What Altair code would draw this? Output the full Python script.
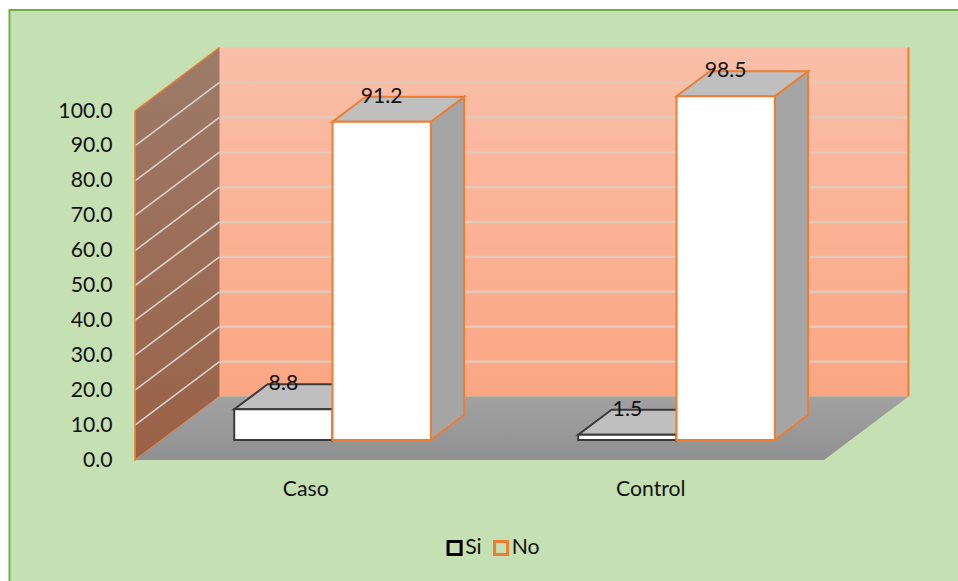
import altair as alt
import pandas as pd

# Values of the chart
categories = ["Caso", "Control"]
series_names = ["Si", "No"]
si_values = [8.8, 1.5]
no_values = [91.2, 98.5]
axis_ticks = [0, 10, 20, 30, 40, 50, 60, 70, 80, 90, 100]

# Oblique projection: depth 0 is the front edge of the floor, depth 1 the back wall
PX_PER_CATEGORY = 345.0
PX_PER_VALUE = 3.49
DEPTH_X = 84.5 / PX_PER_CATEGORY
DEPTH_Y = 63.5 / PX_PER_VALUE
FLOOR_LEFT_PX = 135.0
FLOOR_FRONT_PX = 460.0
FLOOR_SPAN = 1.997
W, H = 958, 581

BAR_FRONT, BAR_BACK = 0.315, 0.709
BAR_WIDTH = 98.3 / PX_PER_CATEGORY
GROUP_CENTERS = [0.4954, 1.4925]

ORANGE = "#ed7d31"
DARK = "#3a3a3a"
TOP_GRAY = "#bfbfbf"
SIDE_GRAY = "#a5a5a5"
INK = "#111111"
FONT = "Lato"
TEXT_SIZE = 21.2

x_scale = alt.Scale(domain=[-FLOOR_LEFT_PX / PX_PER_CATEGORY, (W - FLOOR_LEFT_PX) / PX_PER_CATEGORY],
                    nice=False, zero=False)
y_scale = alt.Scale(domain=[(FLOOR_FRONT_PX - H) / PX_PER_VALUE, FLOOR_FRONT_PX / PX_PER_VALUE],
                    nice=False, zero=False)

# Value axis, pulled inward so its labels sit just left of the left wall
value_axis = alt.Axis(
    values=axis_ticks, format=".1f", domain=False, ticks=False, grid=False,
    offset=-112, labelPadding=0, labelFont=FONT, labelFontSize=TEXT_SIZE,
    labelColor=INK, zindex=1, title=None,
)


def px(x, d):
    return x + DEPTH_X * d


def py(v, d):
    return v + DEPTH_Y * d


X = alt.X("x:Q", scale=x_scale, axis=None)
Y = alt.Y("y:Q", scale=y_scale, axis=value_axis, stack=None)
X2 = alt.X2("x2:Q")
Y2 = alt.Y2("y2:Q")


def vgrad(top, bottom):
    return alt.Gradient(gradient="linear", x1=0, x2=0, y1=0, y2=1,
                        stops=[alt.GradientStop(offset=0, color=top),
                               alt.GradientStop(offset=1, color=bottom)])


def bar_layers(x0, x1, value, stroke, width):
    """Front, top and right side of one box standing on the floor."""
    style = dict(stroke=stroke, strokeWidth=width, strokeJoin="miter")
    front = pd.DataFrame([{"x": px(x0, BAR_FRONT), "x2": px(x1, BAR_FRONT),
                           "y": py(value, BAR_FRONT), "y2": py(0, BAR_FRONT)}])
    top = pd.DataFrame([
        {"y": py(value, BAR_FRONT), "x": px(x0, BAR_FRONT), "x2": px(x1, BAR_FRONT)},
        {"y": py(value, BAR_BACK), "x": px(x0, BAR_BACK), "x2": px(x1, BAR_BACK)},
    ])
    side = pd.DataFrame([
        {"x": px(x1, BAR_FRONT), "y": py(value, BAR_FRONT), "y2": py(0, BAR_FRONT)},
        {"x": px(x1, BAR_BACK), "y": py(value, BAR_BACK), "y2": py(0, BAR_BACK)},
    ])
    return [
        alt.Chart(side).mark_area(orient="vertical", fill=SIDE_GRAY, **style).encode(x=X, y=Y, y2=Y2),
        alt.Chart(top).mark_area(orient="horizontal", fill=TOP_GRAY, **style).encode(y=Y, x=X, x2=X2),
        alt.Chart(front).mark_rect(fill="white", **style).encode(x=X, x2=X2, y=Y, y2=Y2),
    ]


# Green panel behind everything
panel = alt.Chart(pd.DataFrame([{"y": 0}])).mark_rect(
    fill="#c5e0b3", stroke="#70ad47", strokeWidth=2
).encode(
    x=alt.value(9.5), x2=alt.value(W + 20), y=alt.value(10), y2=alt.value(H + 20),
)

# Back wall
back_wall = alt.Chart(pd.DataFrame([{
    "x": px(0, 1), "x2": px(FLOOR_SPAN, 1), "y": py(100, 1), "y2": py(0, 1),
}])).mark_rect(fill=vgrad("#f9bfa9", "#fba683")).encode(x=X, x2=X2, y=Y, y2=Y2)

back_grid = alt.Chart(pd.DataFrame([
    {"x": px(0, 1), "x2": px(FLOOR_SPAN, 1), "y": py(v, 1)} for v in axis_ticks[1:-1]
])).mark_rule(stroke="#e3c9ba", strokeWidth=2.4).encode(x=X, x2=X2, y=Y)

back_edge = alt.Chart(pd.DataFrame([{"x": px(FLOOR_SPAN, 1), "y": py(100, 1), "y2": py(0, 1)}])).mark_rule(
    stroke=ORANGE, strokeWidth=2
).encode(x=X, y=Y, y2=Y2)

# Left wall
left_wall = alt.Chart(pd.DataFrame([
    {"x": px(0, 0), "y": py(100, 0), "y2": py(0, 0)},
    {"x": px(0, 1), "y": py(100, 1), "y2": py(0, 1)},
])).mark_area(orient="vertical", color=vgrad("#9d7b6a", "#9a6147")).encode(x=X, y=Y, y2=Y2)

left_grid = alt.Chart(pd.DataFrame(
    [{"x": px(0, d), "y": py(v, d), "tick": v} for v in axis_ticks[1:-1] for d in (0, 1)]
)).mark_line(stroke="#d9d2cc", strokeWidth=1.6).encode(x=X, y=Y, detail="tick:N")

left_edge = alt.Chart(pd.DataFrame([
    {"x": px(0, 1), "y": py(100, 1), "step": 0},
    {"x": px(0, 0), "y": py(100, 0), "step": 1},
    {"x": px(0, 0), "y": py(0, 0), "step": 2},
    {"x": px(0, 1), "y": py(0, 1), "step": 3},
])).mark_line(stroke=ORANGE, strokeWidth=1.5).encode(x=X, y=Y, order="step:Q")

# Floor
floor = alt.Chart(pd.DataFrame([
    {"y": py(0, 0), "x": px(0, 0), "x2": px(FLOOR_SPAN, 0)},
    {"y": py(0, 1), "x": px(0, 1), "x2": px(FLOOR_SPAN, 1)},
])).mark_area(orient="horizontal", color=vgrad("#a2a2a2", "#909090")).encode(y=Y, x=X, x2=X2)

# Boxes, left to right so that each one hides the back of its neighbour
boxes = []
labels = []
for center, si, no in zip(GROUP_CENTERS, si_values, no_values):
    boxes += bar_layers(center - BAR_WIDTH, center, si, DARK, 2)
    boxes += bar_layers(center, center + BAR_WIDTH, no, ORANGE, 2)
    labels.append({"x": px(center - BAR_WIDTH / 2, BAR_FRONT), "y": py(si, BAR_BACK), "text": f"{si:.1f}"})
    labels.append({"x": px(center + BAR_WIDTH / 2, BAR_FRONT), "y": py(no, BAR_BACK), "text": f"{no:.1f}"})

value_labels = alt.Chart(pd.DataFrame(labels)).mark_text(
    font=FONT, fontSize=TEXT_SIZE, color=INK, align="center", baseline="middle"
).encode(x=X, y=Y, text="text:N")

category_labels = alt.Chart(pd.DataFrame({
    "x": [i + 0.495 for i in range(len(categories))],
    "y": [-8.7] * len(categories),
    "text": categories,
})).mark_text(font=FONT, fontSize=TEXT_SIZE, color=INK, align="center", baseline="middle").encode(
    x=X, y=Y, text="text:N"
)

# Invisible marks that carry the series legend
legend_layer = alt.Chart(pd.DataFrame({"serie": series_names, "x": [0, 0], "y": [0, 0]})).mark_point(
    opacity=0, filled=False
).encode(
    x=X, y=Y,
    stroke=alt.Stroke("serie:N", scale=alt.Scale(domain=series_names, range=["#000000", ORANGE]),
                      legend=alt.Legend(
                          title=None, orient="none", legendX=444, legendY=537, direction="horizontal",
                          symbolType="square", symbolSize=170, symbolStrokeWidth=3,
                          symbolFillColor="white", symbolOpacity=1, labelFont=FONT, labelFontSize=TEXT_SIZE,
                          labelColor=INK, labelOffset=0, columnPadding=6.5, padding=0,
                      )),
)

chart = alt.layer(
    panel, back_wall, back_grid, back_edge, left_wall, left_grid, left_edge, floor,
    *boxes, value_labels, category_labels, legend_layer,
).properties(
    width=W, height=H, padding=0, autosize=alt.AutoSizeParams(type="none"), background="white",
).configure_view(stroke=None)

chart.save("out.html", embed_options={"renderer": "svg", "actions": False})
